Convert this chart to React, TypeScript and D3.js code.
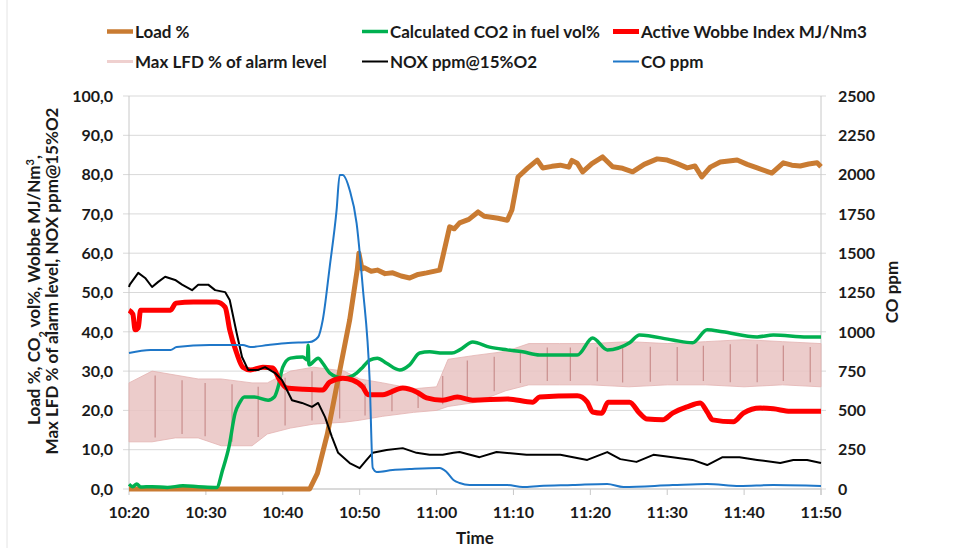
import React from "react";
import * as d3 from "d3";

// ---------- data (time in minutes after 10:20) ----------
const xTickLabels = ["10:20", "10:30", "10:40", "10:50", "11:00", "11:10", "11:20", "11:30", "11:40", "11:50"];
const leftTickLabels = ["0,0", "10,0", "20,0", "30,0", "40,0", "50,0", "60,0", "70,0", "80,0", "90,0", "100,0"];
const leftTickValues = [0, 10, 20, 30, 40, 50, 60, 70, 80, 90, 100];
const rightTickValues = [0, 250, 500, 750, 1000, 1250, 1500, 1750, 2000, 2250, 2500];

const loadTime = [0, 23.5, 24.5, 25.8, 27.4, 28.7, 29.7, 29.9, 30.3, 30.6, 31.5, 32.3, 33.3, 34.3, 35.4, 36.5, 37.6, 38.7, 40.4, 40.8, 41.7, 42.3, 43.0, 44.2, 45.4, 46.2, 46.9, 48.0, 49.2, 49.8, 50.6, 51.8, 53.1, 53.8, 55.0, 56.1, 57.2, 57.6, 58.3, 59.0, 60.2, 61.6, 62.9, 64.2, 65.5, 67.0, 68.7, 70.0, 71.3, 72.6, 73.6, 74.5, 75.6, 76.9, 79.1, 80.4, 81.7, 83.6, 85.1, 86.2, 87.3, 88.4, 89.5, 90];
const loadValue = [0, 0, 4, 14, 30, 43, 56, 60, 56, 56.3, 55.4, 55.7, 54.8, 55, 54.2, 53.7, 54.6, 55, 55.7, 59, 66.7, 66.2, 67.7, 68.6, 70.5, 69.4, 69.2, 68.9, 68.4, 71, 79.4, 81.6, 83.7, 81.7, 82.1, 82.4, 81.9, 83.6, 82.9, 80.7, 82.8, 84.5, 82, 81.6, 80.7, 82.6, 84, 83.7, 82.8, 81.7, 82.2, 79.4, 81.9, 83.2, 83.7, 82.6, 81.7, 80.4, 83, 82.4, 82.2, 82.7, 83, 82];

const co2Time = [0, 0.5, 1, 1.5, 3, 5, 7, 9, 11.4, 12.2, 13.0, 13.8, 14.4, 15.0, 16.3, 18.1, 18.9, 19.4, 20.0, 21.0, 22.6, 23.2, 23.3, 23.4, 24.6, 25.2, 26.1, 27.0, 27.8, 28.7, 29.6, 30.4, 31.3, 32.3, 33.5, 35.2, 36.5, 37.8, 39.1, 40.8, 42.0, 43.0, 44.7, 46.9, 49.2, 51.2, 53.4, 58.3, 60.3, 62.2, 65.1, 66.4, 70.7, 73.3, 75.2, 77.2, 81.7, 83.8, 88.2, 90];
const co2Value = [1.2, 0.6, 1.3, 0.5, 0.6, 0.4, 0.8, 0.6, 0.4, 5, 10.7, 19.3, 22, 23.4, 23.4, 22.6, 23.4, 26, 31, 33.3, 33.6, 32.8, 36.6, 31.6, 33.3, 32, 29.5, 28.5, 28.2, 28.5, 29.5, 31, 32.8, 33.3, 32, 30.3, 31.6, 34.6, 34.9, 34.6, 34.6, 35.4, 37.4, 36.1, 35.4, 34.9, 34.1, 34.1, 38.4, 35.4, 37.2, 39.2, 37.9, 37.2, 40.5, 40, 38.7, 39.2, 38.7, 38.7];

const wobbeTime = [0, 0.5, 0.8, 1.2, 1.5, 5.4, 6.1, 8.4, 11.4, 12.5, 13.1, 14.0, 14.8, 15.8, 17.4, 18.7, 19.6, 20.5, 22.6, 25.2, 26.1, 27.8, 29.1, 30.4, 31.1, 33.0, 35.6, 37.4, 38.7, 40.8, 42.7, 44.7, 49.2, 52.5, 53.4, 58.3, 59.6, 60.3, 61.5, 62.3, 65.1, 66.4, 67.4, 69.4, 70.7, 72.6, 74.3, 75.2, 75.9, 78.6, 79.9, 82.1, 83.8, 86.0, 90];
const wobbeValue = [45.5, 44.5, 40.5, 41, 45.5, 45.5, 47.3, 47.6, 47.6, 46.3, 40.5, 34.6, 31, 30.3, 31, 30.8, 27.7, 25.7, 25.4, 25.2, 27.2, 28.2, 27.7, 26, 24, 24, 25.7, 24.7, 23.2, 22.6, 23.4, 22.6, 22.9, 22.1, 23.4, 23.7, 22.1, 19.6, 19.3, 22.1, 22.1, 19.3, 17.8, 17.6, 19.3, 20.9, 21.9, 19.6, 17.6, 17.1, 19.3, 20.6, 20.4, 19.8, 19.8];

const lfdTime = [0, 3, 6, 9, 12, 16, 18, 21, 24, 28, 30, 33, 37, 40, 41.5, 45, 49, 52, 56, 60, 65, 70, 75, 80, 85, 90];
const lfdLow = [12, 12, 13, 13, 11, 11, 14, 15.5, 16.5, 17, 17.5, 18.5, 19.5, 20, 21, 22, 25, 26.5, 26.5, 26.5, 26, 26.5, 26.5, 26, 26.5, 26];
const lfdHigh = [27, 30, 29, 28, 28, 27, 27, 30, 31, 30, 28, 27, 25.5, 26, 33, 34, 35, 37, 37, 37, 37.5, 37, 37.5, 38, 37.5, 37];
const lfdSpikeTime = [3.4, 6.9, 9.9, 13.4, 16.8, 20.3, 23.8, 27.4, 30.7, 34.2, 37.6, 40.8, 44.0, 47.5, 50.9, 54.4, 57.4, 60.9, 64.2, 67.8, 71.3, 74.7, 78.2, 81.7, 85.1, 88.6];

const noxTime = [0, 0.1, 1.2, 2.1, 3.0, 3.8, 4.7, 6.0, 6.9, 8.2, 9.0, 10.3, 11.2, 12.5, 13.1, 14.0, 14.7, 15.5, 16.8, 17.7, 19.0, 19.9, 21.2, 22.5, 23.8, 24.6, 25.5, 26.4, 27.2, 28.7, 30.0, 30.9, 31.7, 33.5, 35.6, 37.4, 39.1, 40.8, 42.2, 43.0, 45.6, 47.8, 51.7, 56.1, 59.6, 62.2, 63.9, 66.0, 68.2, 70.7, 73.3, 75.2, 77.2, 79.4, 81.7, 84.7, 86.4, 88.2, 90];
const noxValue = [51.4, 52, 55, 53.7, 51.4, 52.7, 54, 53.2, 52, 50.6, 52, 52, 50.6, 50.1, 48.1, 39.7, 33.6, 30.3, 30.3, 31, 29.5, 27.7, 22.6, 21.9, 20.9, 21.9, 18.3, 13.2, 9.2, 6.6, 5.3, 7.4, 9.2, 9.9, 10.4, 9.2, 8.7, 8.7, 9.2, 9.4, 8.1, 9.4, 8.7, 8.7, 7.4, 9.4, 7.6, 6.9, 8.7, 8.1, 7.4, 6.1, 8.1, 8.1, 7.4, 6.6, 7.4, 7.4, 6.6];

const coTime = [0, 2.8, 5.4, 6.2, 10.5, 14.8, 15.8, 18.1, 20.7, 23.5, 24.6, 25.2, 26.1, 27.0, 27.4, 27.8, 28.7, 29.6, 30.4, 31.3, 31.7, 32.2, 34.3, 36.5, 40.4, 41.3, 42.2, 43.0, 44.3, 49.2, 51.2, 53.4, 57.7, 62.2, 64.3, 70.7, 75.2, 79.4, 83.8, 90];
const coValue = [865, 884, 884, 903, 916, 916, 903, 916, 929, 935, 967, 1075, 1412, 1775, 1997, 1997, 1902, 1692, 1285, 693, 134, 108, 121, 127, 134, 108, 57, 38, 25, 25, 13, 19, 25, 32, 13, 25, 32, 19, 25, 19];

const legendLabels = ["Load %", "Calculated CO2 in fuel vol%", "Active Wobbe Index MJ/Nm3", "Max LFD % of alarm level", "NOX ppm@15%O2", "CO ppm"];

// ---------- layout ----------
const W = 958;
const H = 548;
const L = 129, R = 821, T = 96, B = 489;
const FONT = "Lato, 'Liberation Sans', Arial, sans-serif";

const C_LOAD = "#C97B32";
const C_CO2 = "#00B050";
const C_WOBBE = "#FF0000";
const C_LFD = "#E9C3C2";
const C_NOX = "#000000";
const C_CO = "#1F77C8";

export default function App() {
  const x = d3.scaleLinear().domain([0, 90]).range([L, R]);
  const yL = d3.scaleLinear().domain([0, 100]).range([B, T]);
  const yR = d3.scaleLinear().domain([0, 2500]).range([B, T]);

  const mk = (ts: number[], vs: number[], y: any, curve: any = d3.curveLinear) =>
    d3.line<number>().x((_, i) => x(ts[i])).y((v) => y(v)).curve(curve)(vs) || "";

  const lfdArea =
    d3
      .area<number>()
      .x((_, i) => x(lfdTime[i]))
      .y0((_, i) => yL(lfdLow[i]))
      .y1((_, i) => yL(lfdHigh[i]))
      .curve(d3.curveLinear)(lfdLow) || "";

  const lowAt = d3.scaleLinear().domain(lfdTime).range(lfdLow);
  const highAt = d3.scaleLinear().domain(lfdTime).range(lfdHigh);

  const legendItems = [
    { label: legendLabels[0], color: C_LOAD, w: 4.5, lx: 107, row: 0 },
    { label: legendLabels[1], color: C_CO2, w: 3.5, lx: 362, row: 0 },
    { label: legendLabels[2], color: C_WOBBE, w: 5, lx: 613, row: 0 },
    { label: legendLabels[3], color: "#EFD0CF", w: 3, lx: 107, row: 1 },
    { label: legendLabels[4], color: C_NOX, w: 2, lx: 362, row: 1 },
    { label: legendLabels[5], color: C_CO, w: 2, lx: 613, row: 1 },
  ];

  return (
    <svg
      width={W}
      height={H}
      style={{ position: "absolute", left: 0, top: 0, display: "block", background: "#fff" }}
      fontFamily={FONT}
      fontWeight="bold"
    >
      <rect x={0} y={0} width={W} height={H} fill="#fff" />
      <line x1={7} x2={7} y1={0} y2={H} stroke="#e4e4e4" strokeWidth={1} />

      {/* legend */}
      {legendItems.map((d, i) => {
        const cy = d.row === 0 ? 31.5 : 61.5;
        return (
          <g key={i}>
            <line x1={d.lx} x2={d.lx + 26} y1={cy} y2={cy} stroke={d.color} strokeWidth={d.w} />
            <text x={d.lx + 28} y={cy} dy="0.36em" fontSize={17} fill="#1a1a1a">
              {d.label}
            </text>
          </g>
        );
      })}

      {/* gridlines + left ticks */}
      {leftTickValues.map((v, i) => (
        <g key={"g" + i}>
          <line x1={L - 6} x2={R + 5} y1={yL(v)} y2={yL(v)} stroke="#d9d9d9" strokeWidth={1} />
          <text x={113} y={yL(v)} dy="0.36em" textAnchor="end" fontSize={16} fill="#1a1a1a">
            {leftTickLabels[i]}
          </text>
        </g>
      ))}
      {rightTickValues.map((v, i) => (
        <text key={"r" + i} x={838} y={yR(v)} dy="0.36em" textAnchor="start" fontSize={16} fill="#1a1a1a">
          {v}
        </text>
      ))}
      {/* axes */}
      <line x1={L} x2={L} y1={T} y2={B} stroke="#c8c8c8" strokeWidth={1} />
      <line x1={R} x2={R} y1={T} y2={B + 6} stroke="#c8c8c8" strokeWidth={1} />
      <line x1={L} x2={R} y1={B} y2={B} stroke="#c8c8c8" strokeWidth={1} />
      {xTickLabels.map((t, i) => (
        <g key={"x" + i}>
          <line x1={x(i * 10)} x2={x(i * 10)} y1={B} y2={B + 6} stroke="#c8c8c8" strokeWidth={1} />
          <text x={x(i * 10)} y={518} textAnchor="middle" fontSize={16} fill="#1a1a1a">
            {t}
          </text>
        </g>
      ))}

      {/* series */}
      <path d={lfdArea} fill={C_LFD} fillOpacity={0.85} stroke="#E3B2B1" strokeWidth={0.8} />
      {lfdSpikeTime.map((t, i) => (
        <line
          key={"s" + i}
          x1={x(t)}
          x2={x(t)}
          y1={yL(lowAt(t) + 1)}
          y2={yL(highAt(t) - 1)}
          stroke="#C98E8D"
          strokeWidth={1.2}
        />
      ))}
      <path d={mk(loadTime, loadValue, yL)} fill="none" stroke={C_LOAD} strokeWidth={5} strokeLinejoin="round" />
      <path d={mk(co2Time, co2Value, yL, d3.curveMonotoneX)} fill="none" stroke={C_CO2} strokeWidth={3.5} strokeLinejoin="round" />
      <path d={mk(wobbeTime, wobbeValue, yL, d3.curveMonotoneX)} fill="none" stroke={C_WOBBE} strokeWidth={5} strokeLinejoin="round" />
      <path d={mk(noxTime, noxValue, yL)} fill="none" stroke={C_NOX} strokeWidth={2} strokeLinejoin="round" />
      <path d={mk(coTime, coValue, yR, d3.curveMonotoneX)} fill="none" stroke={C_CO} strokeWidth={2} strokeLinejoin="round" />

      {/* axis titles */}
      <text transform="translate(40,290) rotate(-90)" textAnchor="middle" fontSize={17} fill="#1a1a1a">
        Load %, CO<tspan baselineShift="sub" fontSize={11}>2</tspan> vol%, Wobbe MJ/Nm
        <tspan baselineShift="super" fontSize={11}>3</tspan>,
      </text>
      <text transform="translate(58,281) rotate(-90)" textAnchor="middle" fontSize={17} fill="#1a1a1a">
        Max LFD % of alarm level, NOX ppm@15%O2
      </text>
      <text transform="translate(898,292) rotate(-90)" textAnchor="middle" fontSize={17} fill="#1a1a1a">
        CO ppm
      </text>
      <text x={475} y={544} textAnchor="middle" fontSize={17} fill="#1a1a1a">
        Time
      </text>
    </svg>
  );
}
